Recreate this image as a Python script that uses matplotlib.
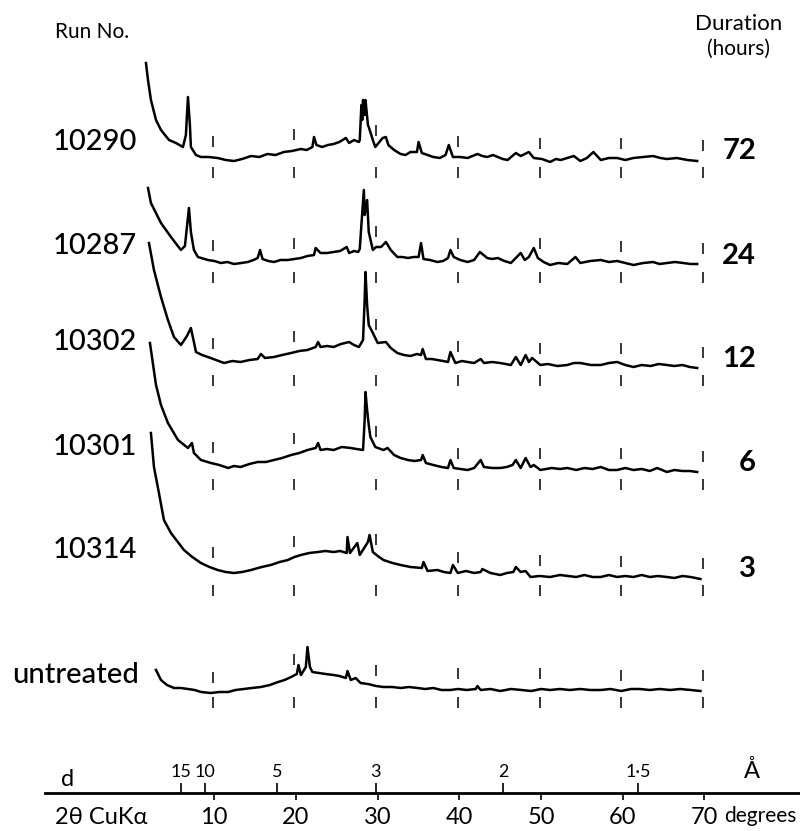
import numpy as np
import matplotlib
matplotlib.use("Agg")
import matplotlib.pyplot as plt

plt.rcParams['font.family'] = ['Lato', 'DejaVu Sans']

# --- data (2theta in degrees, intensity in arbitrary units) ---
run_labels = ['10290', '10287', '10302', '10301', '10314', 'untreated']
durations = ['72', '24', '12', '6', '3']

r10290_2t = [1.83, 2.08, 2.44, 3.06, 3.67, 4.65, 5.50, 6.36, 6.72, 6.97,
             7.21, 7.33, 7.95, 8.56, 9.5, 10.6, 11.6, 12.6, 13.6, 14.7,
             15.7, 16.7, 17.7, 18.7, 19.7, 20.8, 21.5, 22.2, 22.4, 22.7,
             23.4, 24.1, 24.8, 25.5, 26.3, 26.7, 27.3, 27.9, 28.0, 28.2,
             28.3, 28.4, 28.6, 28.7, 29.0, 29.1, 29.6, 29.9, 30.8, 31.2,
             31.5, 32.2, 33.0, 33.6, 34.2, 35.0, 35.2, 35.6, 36.3, 37.0,
             37.8, 38.5, 38.9, 39.4, 40.3, 41.2, 42.4, 43.0, 43.6, 44.3,
             44.9, 45.5, 46.1, 47.1, 47.7, 48.7, 49.3, 50.3, 51.3, 52.0,
             52.6, 53.4, 54.2, 55.0, 55.8, 56.6, 57.5, 58.5, 59.5, 60.5,
             61.5, 62.7, 63.9, 64.8, 65.6, 66.8, 68.1, 69.3]
r10290_i = [97, 80, 60, 40, 30, 20, 17, 13, 25, 63,
            35, 13, 5, 3, 3, 2, 0, -1, 1, 4,
            3, 6, 5, 8, 9, 11, 10, 13, 23, 15,
            13, 15, 16, 18, 22, 17, 20, 18, 20, 55,
            40, 60, 45, 60, 35, 33, 20, 13, 22, 23,
            15, 10, 6, 5, 8, 8, 18, 7, 5, 3,
            2, 5, 15, 3, 3, 2, 6, 4, 3, 5,
            3, 1, 0, 7, 4, 8, 2, 1, -2, 1,
            0, 2, 4, -1, 2, 8, 0, 2, 2, 0,
            2, 3, 4, 2, 1, 2, 0, -1]

r10287_2t = [2.08, 2.44, 3.67, 4.89, 6.11, 6.6, 7.09, 7.33, 7.70, 8.19,
             9.41, 10.2, 11.0, 11.8, 12.6, 13.5, 14.3, 15.0, 15.5, 15.8,
             16.1, 16.8, 17.5, 18.3, 19.2, 20.0, 20.8, 21.6, 22.4, 22.6,
             23.2, 24.0, 24.8, 25.6, 26.4, 26.7, 27.3, 27.8, 28.0, 28.2,
             28.5, 28.6, 28.9, 29.1, 29.6, 30.0, 30.6, 31.2, 31.8, 32.6,
             33.2, 33.9, 34.6, 35.2, 35.5, 35.8, 36.6, 37.5, 38.2, 38.8,
             39.1, 39.5, 40.3, 41.2, 42.0, 42.7, 43.6, 44.2, 44.9, 45.7,
             46.5, 47.1, 47.7, 48.2, 48.7, 49.3, 49.8, 50.5, 51.3, 52.3,
             53.4, 54.4, 55.0, 56.2, 57.5, 58.5, 59.5, 60.5, 61.5, 62.7,
             63.9, 64.7, 65.6, 66.6, 67.6, 68.5, 69.3]
r10287_i = [77, 62, 42, 28, 15, 19, 57, 33, 15, 8,
            5, 4, 2, 3, 1, 2, 3, 5, 7, 15,
            6, 4, 3, 5, 5, 6, 7, 9, 10, 17,
            12, 12, 13, 14, 18, 12, 14, 13, 16, 40,
            75, 50, 65, 33, 15, 18, 18, 23, 15, 8,
            8, 7, 8, 8, 22, 6, 5, 3, 4, 7,
            15, 8, 5, 3, 5, 13, 7, 6, 7, 4,
            2, 7, 12, 5, 8, 17, 7, 3, 0, 2,
            1, 8, 2, 4, 5, 3, 4, 2, 0, 2,
            3, 1, 2, 3, 2, 1, 1]

r10302_2t = [2.20, 2.81, 3.67, 4.52, 5.26, 6.11, 6.85, 7.33, 7.70, 7.95,
             8.7, 9.41, 10.4, 11.4, 12.4, 13.4, 14.5, 15.5, 15.9, 16.4,
             17.5, 18.5, 19.6, 20.6, 21.6, 22.6, 22.9, 23.2, 24.0, 24.8,
             25.7, 26.7, 27.3, 27.9, 28.4, 28.6, 28.7, 28.9, 29.1, 29.6,
             30.2, 31.2, 31.8, 32.6, 33.4, 34.2, 35.0, 35.5, 35.7, 36.1,
             36.8, 37.5, 38.2, 38.8, 39.1, 39.7, 40.5, 41.2, 42.0, 42.8,
             43.2, 44.2, 45.2, 46.5, 47.1, 47.7, 48.3, 48.7, 49.1, 50.1,
             51.0, 52.2, 53.4, 54.2, 55.0, 56.3, 57.5, 58.5, 59.5, 60.5,
             61.5, 62.5, 63.6, 64.6, 65.6, 66.5, 67.5, 68.4, 69.3]
r10302_i = [125, 98, 71, 48, 31, 23, 32, 40, 26, 16,
            13, 11, 8, 5, 7, 6, 8, 9, 14, 10,
            11, 13, 15, 17, 18, 21, 26, 21, 22, 21,
            24, 26, 23, 21, 28, 68, 96, 63, 43, 35,
            25, 26, 20, 15, 13, 12, 14, 13, 19, 9,
            9, 8, 7, 6, 16, 5, 7, 6, 5, 9,
            5, 6, 5, 3, 11, 3, 13, 6, 10, 3,
            4, 2, 3, 5, 5, 3, 3, 5, 6, 3,
            1, 3, 2, 4, 3, 2, 3, 1, 0]

r10301_2t = [2.32, 3.06, 3.67, 4.52, 5.75, 6.97, 7.46, 7.70, 8.56, 9.78,
             10.8, 11.9, 12.6, 13.4, 14.5, 15.5, 16.5, 17.5, 18.5, 19.6,
             20.6, 21.6, 22.6, 22.9, 23.2, 24.0, 24.8, 25.8, 26.9, 27.6,
             28.4, 28.6, 28.7, 28.9, 29.1, 29.3, 29.9, 30.9, 31.4, 32.2,
             33.0, 33.9, 34.7, 35.5, 35.7, 36.1, 37.0, 38.0, 38.8, 39.1,
             39.5, 40.3, 41.2, 42.0, 42.8, 43.2, 44.2, 45.2, 46.0, 46.7,
             47.1, 47.7, 48.3, 48.9, 49.3, 50.1, 51.5, 52.5, 53.4, 54.5,
             55.5, 56.5, 57.5, 58.5, 59.5, 60.5, 61.5, 62.5, 63.5, 64.4,
             65.6, 66.5, 67.5, 68.4, 69.3]
r10301_i = [129, 87, 67, 49, 32, 24, 29, 19, 12, 9,
            7, 4, 6, 5, 8, 10, 10, 12, 14, 17,
            19, 22, 24, 29, 22, 23, 22, 25, 24, 23,
            22, 52, 80, 62, 47, 35, 25, 22, 24, 17,
            14, 12, 11, 12, 17, 9, 7, 5, 4, 12,
            4, 3, 2, 4, 12, 5, 4, 4, 5, 7,
            12, 4, 14, 5, 7, 2, 4, 3, 4, 2,
            4, 3, 5, 2, 2, 4, 2, 3, 1, 4,
            0, 2, 1, 1, 0]

r10314_2t = [2.44, 2.81, 3.42, 4.03, 4.89, 6.48, 7.5, 8.56, 9.6, 10.6,
             11.6, 12.6, 13.6, 14.7, 16.0, 17.1, 18.2, 19.2, 20.0, 20.8,
             21.8, 22.9, 23.8, 24.8, 25.6, 26.4, 26.5, 26.8, 27.7, 28.0,
             29.0, 29.2, 29.6, 30.2, 30.9, 32.0, 33.0, 34.2, 35.6, 35.8,
             36.3, 37.5, 38.3, 39.1, 39.4, 40.0, 41.0, 42.0, 42.8, 43.0,
             44.0, 45.2, 46.0, 46.8, 47.1, 47.7, 48.3, 48.9, 50.0, 51.3,
             52.5, 53.5, 54.5, 55.5, 56.5, 57.5, 58.5, 59.5, 60.5, 61.5,
             62.5, 63.5, 64.5, 65.6, 66.5, 67.5, 68.5, 69.7]
r10314_i = [145, 111, 85, 58, 45, 28, 21, 15, 11, 8,
            6, 5, 6, 8, 11, 13, 16, 18, 21, 23,
            25, 26, 27, 26, 27, 25, 41, 25, 35, 23,
            36, 43, 26, 22, 18, 15, 13, 11, 10, 16,
            7, 8, 6, 5, 13, 5, 7, 5, 6, 9,
            5, 3, 5, 6, 11, 6, 7, 1, 2, 1,
            3, 2, 1, 3, 1, 1, 3, 1, 2, 1,
            3, 1, 2, 1, 0, 2, 1, -1]

untreated_2t = [3.06, 3.67, 4.4, 5.26, 6.1, 6.97, 7.8, 8.56, 9.78, 10.8,
                11.9, 12.8, 13.8, 14.8, 15.9, 17.0, 18.0, 18.8, 19.6, 20.3,
                20.5, 20.8, 21.4, 21.6, 21.9, 22.2, 23.0, 23.8, 24.8, 25.5,
                26.3, 26.5, 26.9, 27.5, 28.1, 29.0, 30.0, 30.9, 32.0, 33.0,
                34.0, 35.1, 36.0, 37.0, 38.0, 39.1, 40.0, 41.1, 42.2, 42.4,
                42.8, 44.0, 45.2, 46.5, 47.8, 49.0, 50.2, 51.3, 52.5, 53.7,
                55.0, 56.2, 57.5, 58.7, 60.0, 61.2, 62.3, 63.5, 64.7, 66.0,
                67.2, 68.5, 69.7]
untreated_i = [20, 10, 5, 2, 2, 1, 0, -2, -3, -2,
               -2, 0, 1, 2, 3, 5, 8, 10, 13, 16,
               25, 15, 23, 43, 23, 18, 17, 16, 15, 14,
               12, 19, 10, 12, 7, 6, 4, 3, 3, 2,
               3, 2, 1, 2, 0, 0, 1, 0, 1, 4,
               0, 1, -1, 1, 0, -1, 1, 0, 1, 0,
               1, 0, 0, 1, -1, 1, 1, 0, 1, 0,
               1, 0, -1]

two_theta = [r10290_2t, r10287_2t, r10302_2t, r10301_2t, r10314_2t, untreated_2t]
intensity = [r10290_i, r10287_i, r10302_i, r10301_i, r10314_i, untreated_i]
offsets = [671, 566, 463, 359, 253, 141]   # stacking offset of each trace

calib_marks = [10, 20, 30, 40, 50, 60, 70]
deg_ticks = [10, 20, 30, 40, 50, 60, 70]
d_ticks = [15, 10, 5, 3, 2, 1.5]
d_labels = ['15', '10', '5', '3', '2', '1\u00b75']

LAM = 1.5418  # CuKa wavelength, Angstrom
X_CUT = 1.0   # below this angle the d scale is just extended linearly
D_CUT = LAM / (2 * np.sin(np.radians(X_CUT / 2)))


def deg_to_d(x):
    x = np.asarray(x, dtype=float)
    xs = np.clip(x, X_CUT, 170)
    d = LAM / (2 * np.sin(np.radians(xs / 2)))
    return np.where(x < X_CUT, D_CUT + (X_CUT - x) * 100, d)


def d_to_deg(d):
    d = np.asarray(d, dtype=float)
    ds = np.clip(d, LAM / 2 + 1e-6, D_CUT)
    x = 2 * np.degrees(np.arcsin(LAM / (2 * ds)))
    return np.where(d > D_CUT, X_CUT - (d - D_CUT) / 100, x)


W, H = 800, 831
PX_DEG = 8.17
X0 = 131.0

fig = plt.figure(figsize=(W / 100, H / 100), dpi=100)
ax = fig.add_axes([0, 0, 1, 1])
ax.set_xlim(-X0 / PX_DEG, (W - X0) / PX_DEG)
ax.set_ylim(0, H)
ax.axis('off')

for tt, ii, off in zip(two_theta, intensity, offsets):
    tt = np.asarray(tt)
    yy = np.asarray(ii) + off
    ax.plot(tt, yy, color='black', lw=1.8, solid_joinstyle='round')
    # calibration ticks above and below each trace
    for m in calib_marks:
        loc = np.interp(m, tt, yy)
        ax.vlines(m, loc + 10, loc + 21, color='black', lw=1.1)
        ax.vlines(m, off - 7, off - 18, color='black', lw=1.1)

# run numbers on the left
label_rows = [150, 254, 350, 455, 558, 683]
label_left = [53, 53, 53, 53, 53, 12]
for lab, row, left in zip(run_labels, label_rows, label_left):
    ax.text((left - X0) / PX_DEG, H - row, lab, fontsize=21, fontweight='medium',
            ha='left', va='baseline')

# durations on the right
for dur, off in zip(durations, offsets):
    ax.text((756 - X0) / PX_DEG, off + 1, dur, fontsize=21, fontweight='bold',
            ha='right', va='baseline')

fig.text(55 / W, 1 - 38 / H, 'Run No.', fontsize=15, ha='left', va='baseline')
fig.text(739 / W, 1 - 30 / H, 'Duration', fontsize=16, ha='center', va='baseline')
fig.text(739 / W, 1 - 55 / H, '(hours)', fontsize=15, ha='center', va='baseline')

# bottom scale: 2theta below, d-spacing above
axs = fig.add_axes([45 / W, 1 - 793 / H, (W - 45) / W, 0.0005])
axs.set_xlim((45 - 132.5) / PX_DEG, (W - 132.5) / PX_DEG)
axs.set_yticks([])
for s in ('left', 'right', 'top'):
    axs.spines[s].set_visible(False)
axs.spines['bottom'].set_linewidth(2.0)
axs.patch.set_visible(False)
axs.set_xticks(deg_ticks, labels=[str(t) for t in deg_ticks])
axs.tick_params(axis='x', direction='out', length=5, width=1.2, pad=5, labelsize=17)

sec = axs.secondary_xaxis('top', functions=(deg_to_d, d_to_deg))
sec.set_ticks(d_ticks, labels=d_labels)
sec.tick_params(direction='out', length=7, width=1.2, pad=2, labelsize=13)
sec.spines['top'].set_visible(False)

fig.text(68 / W, 1 - 786 / H, 'd', fontsize=17, ha='center', va='baseline')
fig.text(752 / W, 1 - 778 / H, '\u00c5', fontsize=17, ha='center', va='baseline')
fig.text(55 / W, 1 - 824 / H, '2\u03b8 CuK\u03b1', fontsize=17, ha='left', va='baseline')
fig.text(724 / W, 1 - 822 / H, 'degrees', fontsize=15, ha='left', va='baseline')

fig.savefig('out.png', dpi=100, facecolor='white')
